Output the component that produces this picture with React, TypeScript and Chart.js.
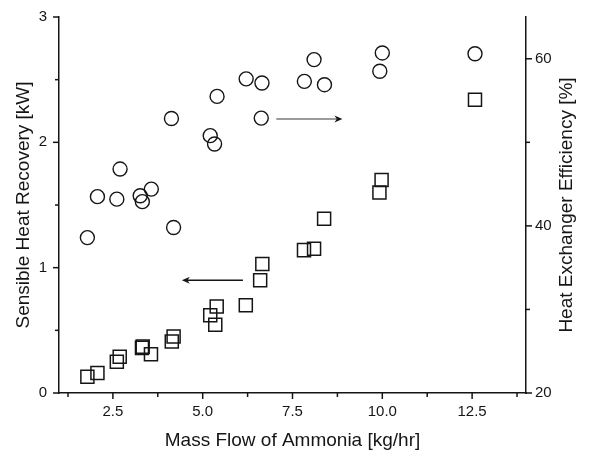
import React, { useEffect, useRef } from "react";
import { Chart, registerables } from "chart.js";

Chart.register(...registerables);

// Sensible heat recovery [kW] vs. ammonia mass flow [kg/hr]
const recoveryFlow = [1.79, 2.07, 2.61, 2.69, 3.31, 3.33, 3.56, 4.14, 4.19, 5.21, 5.39, 5.35, 6.2, 6.6, 6.66, 7.82, 8.1, 8.38, 9.92, 9.98, 12.58];
const recoveryKW = [0.13, 0.16, 0.25, 0.29, 0.36, 0.37, 0.31, 0.41, 0.45, 0.62, 0.69, 0.545, 0.7, 0.9, 1.03, 1.14, 1.15, 1.39, 1.6, 1.7, 2.34];

// Heat exchanger efficiency [%] vs. ammonia mass flow [kg/hr]
const efficiencyFlow = [1.79, 2.07, 2.61, 2.7, 3.26, 3.32, 3.57, 4.13, 4.19, 5.21, 5.33, 5.4, 6.21, 6.65, 6.63, 7.83, 8.1, 8.39, 9.93, 10.0, 12.58];
const efficiencyPct = [38.6, 43.5, 43.2, 46.8, 43.6, 42.9, 44.4, 52.85, 39.8, 50.8, 49.8, 55.5, 57.6, 57.1, 52.9, 57.3, 59.9, 56.9, 58.5, 60.7, 60.6];

// Axis ticks
const xMajorTicks = [2.5, 5.0, 7.5, 10.0, 12.5];
const xMinorTicks = [1.25, 3.75, 6.25, 8.75, 11.25, 13.75];
const leftMajorTicks = [0, 1, 2, 3];
const leftMinorTicks = [0.5, 1.5, 2.5];
const rightMajorTicks = [20, 40, 60];
const rightMinorTicks = [30, 50];

// Arrows pointing each series to its axis: [xFrom, xTo, y]
const efficiencyArrow = [7.05, 8.89, 52.8];
const recoveryArrow = [6.12, 4.42, 0.9];

const xTitle = "Mass Flow of Ammonia [kg/hr]";
const leftTitle = "Sensible Heat Recovery [kW]";
const rightTitle = "Heat Exchanger Efficiency [%]";

const FONT = "'Liberation Sans', Arial, sans-serif";
const INK = "#151515";

function drawArrow(ctx: CanvasRenderingContext2D, x0: number, x1: number, y: number, lineColor: string) {
  const dir = Math.sign(x1 - x0);
  const headLen = 8;
  const headHalf = 3.5;
  ctx.save();
  ctx.strokeStyle = lineColor;
  ctx.lineWidth = 1.6;
  ctx.beginPath();
  ctx.moveTo(x0, y);
  ctx.lineTo(x1 - dir * headLen * 0.6, y);
  ctx.stroke();
  ctx.fillStyle = INK;
  ctx.beginPath();
  ctx.moveTo(x1, y);
  ctx.lineTo(x1 - dir * headLen, y - headHalf);
  ctx.lineTo(x1 - dir * headLen * 0.7, y);
  ctx.lineTo(x1 - dir * headLen, y + headHalf);
  ctx.closePath();
  ctx.fill();
  ctx.restore();
}

const decorations = {
  id: "decorations",
  afterDraw(chart: any) {
    const { ctx, chartArea, scales } = chart;
    const xs = scales.x;
    const yl = scales.y;
    const yr = scales.y1;
    ctx.save();
    ctx.strokeStyle = INK;
    ctx.lineWidth = 1.5;

    const hTick = (v: number, len: number) => {
      const px = xs.getPixelForValue(v);
      ctx.beginPath();
      ctx.moveTo(px, chartArea.bottom);
      ctx.lineTo(px, chartArea.bottom + len);
      ctx.stroke();
    };
    const lTick = (v: number, len: number) => {
      const py = yl.getPixelForValue(v);
      ctx.beginPath();
      ctx.moveTo(chartArea.left, py);
      ctx.lineTo(chartArea.left - len, py);
      ctx.stroke();
    };
    const rTick = (v: number, len: number) => {
      const py = yr.getPixelForValue(v);
      ctx.beginPath();
      ctx.moveTo(chartArea.right, py);
      ctx.lineTo(chartArea.right + len, py);
      ctx.stroke();
    };
    xMajorTicks.forEach((v) => hTick(v, 6));
    xMinorTicks.forEach((v) => hTick(v, 4));
    leftMajorTicks.forEach((v) => lTick(v, 6));
    leftMinorTicks.forEach((v) => lTick(v, 4));
    rightMajorTicks.forEach((v) => rTick(v, 6));
    rightMinorTicks.forEach((v) => rTick(v, 4));

    // arrows
    drawArrow(
      ctx,
      xs.getPixelForValue(efficiencyArrow[0]),
      xs.getPixelForValue(efficiencyArrow[1]),
      yr.getPixelForValue(efficiencyArrow[2]),
      "#7a7a7a"
    );
    drawArrow(
      ctx,
      xs.getPixelForValue(recoveryArrow[0]),
      xs.getPixelForValue(recoveryArrow[1]),
      yl.getPixelForValue(recoveryArrow[2]),
      INK
    );

    // axis titles
    ctx.fillStyle = INK;
    ctx.font = `19px ${FONT}`;
    ctx.textAlign = "center";
    ctx.textBaseline = "middle";
    const midX = (chartArea.left + chartArea.right) / 2;
    const midY = (chartArea.top + chartArea.bottom) / 2;
    ctx.fillText(xTitle, midX, 441);

    ctx.save();
    ctx.translate(24, midY);
    ctx.rotate(-Math.PI / 2);
    ctx.fillText(leftTitle, 0, 0);
    ctx.restore();

    ctx.save();
    ctx.translate(567, midY);
    ctx.rotate(-Math.PI / 2);
    ctx.fillText(rightTitle, 0, 0);
    ctx.restore();

    ctx.restore();
  },
};

// Fixed scale sizes, with no extra room reserved for overhanging labels
const fixVertical = (width: number) => (s: any) => {
  s.width = width;
  s.paddingTop = 0;
  s.paddingBottom = 0;
};

export default function App() {
  const canvasRef = useRef<HTMLCanvasElement | null>(null);

  useEffect(() => {
    const canvas = canvasRef.current;
    if (!canvas) return;

    const tickFont = { family: FONT, size: 15 };

    const chart = new Chart(canvas, {
      type: "scatter",
      data: {
        datasets: [
          {
            label: "Sensible Heat Recovery",
            data: recoveryFlow.map((x, i) => ({ x, y: recoveryKW[i] })),
            yAxisID: "y",
            pointStyle: "rect",
            pointRadius: 9.2,
            pointBorderWidth: 1.5,
            borderColor: INK,
            backgroundColor: "rgba(0,0,0,0)",
          },
          {
            label: "Heat Exchanger Efficiency",
            data: efficiencyFlow.map((x, i) => ({ x, y: efficiencyPct[i] })),
            yAxisID: "y1",
            pointStyle: "circle",
            pointRadius: 7,
            pointBorderWidth: 1.4,
            borderColor: INK,
            backgroundColor: "rgba(0,0,0,0)",
          },
        ],
      },
      options: {
        responsive: false,
        animation: false,
        layout: { padding: { top: 17, left: 0, right: 0, bottom: 0 } },
        plugins: {
          legend: { display: false },
          tooltip: { enabled: false },
        },
        scales: {
          x: {
            type: "linear",
            min: 1,
            max: 14,
            afterBuildTicks: (s: any) => {
              s.ticks = xMajorTicks.map((value) => ({ value }));
            },
            afterFit: (s: any) => {
              s.height = 59;
              s.paddingLeft = 0;
              s.paddingRight = 0;
            },
            ticks: {
              font: tickFont,
              color: INK,
              padding: 10,
              maxRotation: 0,
              callback: (v: any) => Number(v).toFixed(1),
            },
            grid: { drawOnChartArea: false, drawTicks: false },
            border: { display: true, color: INK, width: 1.5 },
          },
          y: {
            type: "linear",
            position: "left",
            min: 0,
            max: 3,
            afterBuildTicks: (s: any) => {
              s.ticks = leftMajorTicks.map((value) => ({ value }));
            },
            afterFit: fixVertical(59),
            ticks: { font: tickFont, color: INK, padding: 12 },
            grid: { drawOnChartArea: false, drawTicks: false },
            border: { display: true, color: INK, width: 1.5 },
          },
          y1: {
            type: "linear",
            position: "right",
            min: 20,
            max: 65,
            afterBuildTicks: (s: any) => {
              s.ticks = rightMajorTicks.map((value) => ({ value }));
            },
            afterFit: fixVertical(64),
            ticks: { font: tickFont, color: INK, padding: 9 },
            grid: { drawOnChartArea: false, drawTicks: false },
            border: { display: true, color: INK, width: 1.5 },
          },
        },
      },
      plugins: [decorations],
    });

    return () => chart.destroy();
  }, []);

  return (
    <div style={{ position: "absolute", left: 0, top: 0, width: 590, height: 452, background: "#fff" }}>
      <canvas ref={canvasRef} width={590} height={452} style={{ display: "block" }} />
    </div>
  );
}
